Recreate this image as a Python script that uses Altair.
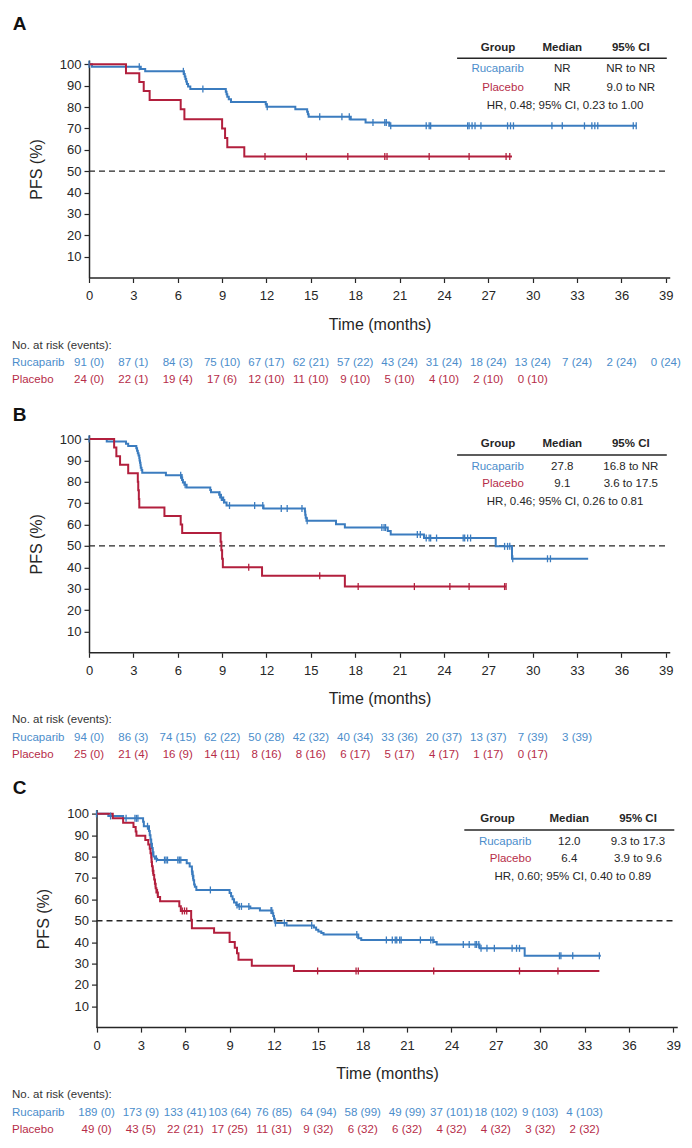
import altair as alt
import pandas as pd

FONT = "Liberation Sans, Arial, Helvetica, sans-serif"
BLUE = "#3b7cbf"
RED = "#b21f3d"
TBLUE = "#4b8dcb"
TRED = "#b62c48"
DARK = "#262626"

MONTH_TICKS = list(range(0, 40, 3))
PFS_TICKS = list(range(10, 101, 10))

# ---------------- Panel A ----------------
A_RUC_T = [0, 0.2, 3.5, 3.8, 6.42, 6.47, 6.52, 6.57, 6.62, 6.7, 6.85, 9.25, 9.3, 9.35, 9.45, 9.6,
           11.95, 12.0, 13.95, 14.75, 14.8, 14.85, 17.7, 18.7, 20.3, 37.0]
A_RUC_S = [100, 98.9, 97.8, 96.7, 95.5, 94.3, 93.1, 91.9, 90.8, 89.6, 88.4, 87.2, 86.0, 84.8, 83.6, 82.4,
           81.3, 80.1, 79.0, 77.8, 76.6, 75.4, 74.2, 72.8, 71.2, 71.2]
A_RUC_C = [0.0, 3.4, 6.38, 7.7, 12.05, 15.6, 17.1, 17.6, 19.2, 20.0, 20.1, 20.4, 22.8, 23.0, 23.1, 25.6,
           25.7, 25.9, 26.1, 26.5, 28.3, 28.5, 28.7, 31.3, 32.0, 33.5, 34.0, 34.2, 34.4, 36.8, 37.0]
A_PLA_T = [0, 2.5, 3.4, 3.7, 4.1, 6.2, 6.45, 9.0, 9.2, 9.35, 10.5, 28.6]
A_PLA_S = [100, 95.8, 91.7, 87.5, 83.3, 78.9, 74.3, 69.9, 65.5, 61.2, 56.8, 56.8]
A_PLA_C = [11.9, 14.7, 17.5, 20.0, 20.15, 23.0, 25.7, 28.2, 28.45]
A_RISK_RUC = ["91 (0)", "87 (1)", "84 (3)", "75 (10)", "67 (17)", "62 (21)", "57 (22)", "43 (24)",
              "31 (24)", "18 (24)", "13 (24)", "7 (24)", "2 (24)", "0 (24)"]
A_RISK_PLA = ["24 (0)", "22 (1)", "19 (4)", "17 (6)", "12 (10)", "11 (10)", "9 (10)", "5 (10)",
              "4 (10)", "2 (10)", "0 (10)"]
A_TABLE = [["Rucaparib", "NR", "NR to NR"], ["Placebo", "NR", "9.0 to NR"]]
A_HR = "HR, 0.48; 95% CI, 0.23 to 1.00"

# ---------------- Panel B ----------------
B_RUC_T = [0, 1.2, 2.5, 2.65, 3.2, 3.25, 3.3, 3.35, 3.4, 3.42, 3.45, 3.48, 3.5, 3.55, 3.6, 5.2, 6.25, 6.3,
           6.35, 6.45, 6.6, 8.2, 8.25, 8.8, 8.9, 9.0, 9.15, 9.3, 11.8, 14.6, 14.62, 14.65, 14.7, 16.7, 17.3,
           20.2, 20.4, 22.65, 27.5, 28.6, 33.75]
B_RUC_S = [100, 98.9, 97.8, 96.8, 95.7, 94.5, 93.4, 92.3, 91.1, 90.0, 88.9, 87.7, 86.6, 85.5, 84.3, 83.1,
           82.0, 80.9, 79.7, 78.6, 77.4, 76.2, 75.1, 73.9, 72.7, 71.5, 70.3, 68.9, 67.5, 66.1, 64.6, 63.2,
           61.8, 60.2, 58.6, 57.0, 55.4, 53.7, 49.8, 44.0, 44.0]
B_RUC_C = [0.0, 6.2, 6.28, 6.5, 8.85, 8.95, 9.1, 9.5, 11.2, 11.75, 13.0, 13.4, 14.4, 14.75, 19.8, 19.95,
           20.05, 22.2, 22.4, 22.8, 23.0, 23.1, 23.5, 25.3, 25.4, 25.6, 25.8, 28.1, 28.3, 28.45, 28.65,
           31.0, 31.2]
B_PLA_T = [0, 1.7, 1.85, 2.1, 2.65, 3.3, 3.33, 3.37, 3.4, 5.1, 6.2, 6.3, 8.9, 8.95, 9.0, 9.05, 11.7, 17.3, 28.2]
B_PLA_S = [100, 96, 92, 88, 84, 80, 76, 72, 68, 64, 60, 56, 52, 48, 44, 40, 36, 31, 31]
B_PLA_C = [10.8, 15.6, 18.2, 22.0, 24.4, 25.7, 28.1, 28.2]
B_RISK_RUC = ["94 (0)", "86 (3)", "74 (15)", "62 (22)", "50 (28)", "42 (32)", "40 (34)", "33 (36)",
              "20 (37)", "13 (37)", "7 (39)", "3 (39)"]
B_RISK_PLA = ["25 (0)", "21 (4)", "16 (9)", "14 (11)", "8 (16)", "8 (16)", "6 (17)", "5 (17)",
              "4 (17)", "1 (17)", "0 (17)"]
B_TABLE = [["Rucaparib", "27.8", "16.8 to NR"], ["Placebo", "9.1", "3.6 to 17.5"]]
B_HR = "HR, 0.46; 95% CI, 0.26 to 0.81"

# ---------------- Panel C ----------------
C_RUC_T = [0, 0.8, 1.8, 3.15, 3.2, 3.55, 3.6, 3.65, 3.7, 3.75, 3.8, 3.85, 3.95, 4.1, 6.1, 6.3, 6.45, 6.5,
           6.55, 6.6, 6.65, 6.75, 9.0, 9.1, 9.2, 9.3, 9.45, 9.6, 10.4, 11.05, 11.9, 11.95, 12.0, 12.05,
           12.1, 12.85, 14.7, 14.85, 15.0, 15.2, 15.35, 17.7, 17.9, 22.8, 23.0, 25.9, 28.95, 34.1]
C_RUC_S = [100, 99.0, 97.9, 96.3, 94.2, 92.0, 90.0, 88.0, 86.0, 84.0, 82.0, 80.0, 79.0, 78.4, 76.9, 75.4,
           73.0, 71.0, 69.0, 67.0, 65.9, 64.4, 63.0, 61.5, 60.0, 58.5, 57.4, 56.7, 55.9, 54.8, 53.5, 52.2,
           50.9, 49.6, 48.9, 47.8, 46.8, 45.8, 45.0, 44.3, 43.6, 41.8, 41.0, 40.0, 38.9, 37.1, 33.6, 33.6]
C_RUC_C = [0.0, 0.95, 2.0, 2.6, 2.7, 2.8, 3.45, 3.7, 3.8, 4.05, 4.6, 4.7, 4.8, 5.5, 5.6, 5.7, 6.45, 6.5,
           7.7, 9.5, 9.65, 9.8, 10.3, 11.8, 11.85, 12.1, 12.7, 14.55, 17.6, 19.6, 20.0, 20.2, 20.3, 20.5,
           20.6, 21.9, 22.6, 22.75, 24.8, 25.2, 25.6, 25.7, 25.85, 26.0, 26.4, 26.9, 28.1, 28.4, 28.6,
           31.3, 31.4, 32.2, 34.0]
C_PLA_T = [0, 1.1, 1.8, 2.5, 2.65, 2.7, 3.3, 3.5, 3.6, 3.65, 3.7, 3.72, 3.75, 3.8, 3.85, 3.9, 3.95, 4.0,
           4.05, 4.15, 4.3, 5.6, 5.7, 6.4, 6.45, 7.95, 9.0, 9.35, 9.5, 9.6, 10.5, 13.35, 34.0]
C_PLA_S = [100, 98.0, 95.9, 93.9, 91.8, 89.8, 87.8, 85.7, 83.7, 81.6, 79.6, 77.5, 75.5, 73.4, 71.4, 69.3,
           67.3, 65.2, 63.2, 61.1, 59.1, 56.8, 54.6, 50.5, 46.5, 44.4, 40.0, 37.4, 34.8, 31.7, 28.9, 26.5, 26.5]
C_PLA_C = [3.73, 3.81, 3.98, 4.12, 5.8, 5.95, 6.1, 14.95, 17.55, 17.7, 22.8, 28.6, 31.2]
C_RISK_RUC = ["189 (0)", "173 (9)", "133 (41)", "103 (64)", "76 (85)", "64 (94)", "58 (99)", "49 (99)",
              "37 (101)", "18 (102)", "9 (103)", "4 (103)"]
C_RISK_PLA = ["49 (0)", "43 (5)", "22 (21)", "17 (25)", "11 (31)", "9 (32)", "6 (32)", "6 (32)",
              "4 (32)", "4 (32)", "3 (32)", "2 (32)"]
C_TABLE = [["Rucaparib", "12.0", "9.3 to 17.3"], ["Placebo", "6.4", "3.9 to 9.6"]]
C_HR = "HR, 0.60; 95% CI, 0.40 to 0.89"

HEADERS = ["Group", "Median", "95% CI"]

# layout constants (pixels)
X0 = 88.7      # page x of plot origin
PXM = 14.79    # px per month
H = 218
ONE = pd.DataFrame({"k": [0]})


def step_at(ts, ss, t):
    v = ss[0]
    for a, b in zip(ts, ss):
        if a <= t:
            v = b
    return v


def T(text, x, y, size=11.5, color=DARK, align="center", weight="normal"):
    return alt.Chart(ONE).mark_text(text=text, font=FONT, fontSize=size, color=color, align=align,
                                    baseline="middle", fontWeight=weight).encode(
        x=alt.value(x), y=alt.value(y))


def panel(letter, letter_y, ruc, pla, risk_r, risk_p, table, hr, tg, shift, anchor=False):
    xs = alt.Scale(domain=[-shift / PXM, 39.3], nice=False, zero=False)
    ys = alt.Scale(domain=[0, 102], nice=False, zero=False)
    xaxis = alt.Axis(values=MONTH_TICKS, title="Time (months)", domain=False, grid=False,
                     tickSize=4.5, tickWidth=1.2, tickColor=DARK, labelFont=FONT, labelFontSize=13,
                     labelColor=DARK, labelPadding=7, labelFlush=False, titleFont=FONT,
                     titleFontSize=16, titleFontWeight="normal", titleColor=DARK, titlePadding=13.5,
                     titleX=290.6 + shift)
    yaxis = alt.Axis(values=PFS_TICKS, title="PFS (%)", domain=True, domainColor=DARK, domainWidth=1.5,
                     grid=False, tickSize=5, tickWidth=1.2, tickColor=DARK, labelFont=FONT,
                     labelFontSize=13, labelColor=DARK, labelPadding=3, labelFlush=False,
                     titleFont=FONT, titleFontSize=16, titleFontWeight="normal", titleColor=DARK,
                     titlePadding=15, offset=-shift)

    def X():
        return alt.X("t:Q", scale=xs, axis=xaxis)

    def Y():
        return alt.Y("s:Q", scale=ys, axis=yaxis)

    layers = []
    dash = alt.Chart(pd.DataFrame({"t": [0], "t2": [39.1], "s": [50]})).mark_rule(
        color=DARK, strokeWidth=1.3, strokeDash=[6, 4]).encode(x=X(), x2=alt.X2("t2:Q"), y=Y())
    xline = alt.Chart(pd.DataFrame({"t": [0], "t2": [39.3], "s": [0]})).mark_rule(
        color=DARK, strokeWidth=1.5).encode(x=X(), x2=alt.X2("t2:Q"), y=Y())
    layers += [dash, xline]

    for (ts, ss, cs), col in [(ruc, BLUE), (pla, RED)]:
        df = pd.DataFrame({"t": ts, "s": ss})
        layers.append(alt.Chart(df).mark_line(interpolate="step-after", color=col, strokeWidth=2)
                      .encode(x=X(), y=Y()))
    for (ts, ss, cs), col in [(ruc, BLUE), (pla, RED)]:
        cdf = pd.DataFrame({"t": cs, "s": [step_at(ts, ss, c) for c in cs]})
        layers.append(alt.Chart(cdf).mark_point(shape="M0,-1L0,1", size=49, strokeWidth=1.3, color=col,
                                                filled=False, opacity=1).encode(x=X(), y=Y()))

    # panel letter
    layers.append(T(letter, 12.4 - X0, letter_y, size=19, align="left", weight="bold", color="#111"))

    # summary table
    layers.append(T(HEADERS[0], tg["group"] - X0, tg["yh"], weight="bold"))
    layers.append(T(HEADERS[1], tg["med"] - X0, tg["yh"], weight="bold"))
    layers.append(T(HEADERS[2], tg["ci"] - X0, tg["yh"], weight="bold"))
    layers.append(alt.Chart(ONE).mark_rule(color=DARK, strokeWidth=1.5).encode(
        x=alt.value(tg["l1"] - X0), x2=alt.value(tg["l2"] - X0), y=alt.value(tg["yl"])))
    for row, yy, col in [(table[0], tg["yr"], TBLUE), (table[1], tg["yp"], TRED)]:
        layers.append(T(row[0], tg["right"] - X0, yy, color=col, align="right"))
        layers.append(T(row[1], tg["med"] - X0, yy))
        layers.append(T(row[2], tg["ci"] - X0, yy))
    layers.append(T(hr, tg["hr"] - X0, tg["yhr"]))

    # number at risk
    layers.append(T("No. at risk (events):", 11.7 - X0, H + 67.6, color="#333", align="left"))
    layers.append(T("Rucaparib", 11.7 - X0, H + 85, color=TBLUE, align="left"))
    layers.append(T("Placebo", 11.7 - X0, H + 102.4, color=TRED, align="left"))
    for labs, col, yy in [(risk_r, TBLUE, H + 85), (risk_p, TRED, H + 102.4)]:
        rdf = pd.DataFrame({"t": MONTH_TICKS[:len(labs)], "lab": labs})
        layers.append(alt.Chart(rdf).mark_text(font=FONT, fontSize=11.5, color=col, align="center",
                                               baseline="middle").encode(
            x=X(), y=alt.value(yy), text="lab:N"))

    if anchor:
        layers.append(alt.Chart(ONE).mark_rect(color="white").encode(
            x=alt.value(8 - X0), x2=alt.value(9 - X0), y=alt.value(8 - 60), y2=alt.value(9 - 60)))

    width = 39.3 * PXM + shift
    return alt.layer(*layers).properties(width=width, height=H)


TG_A = dict(group=497.8, med=562, ci=630.5, l1=456.8, l2=666.5, right=523.5, hr=564.8,
            yh=-12.3, yl=-1.7, yr=9.3, yp=27.7, yhr=45.7)
TG_B = dict(group=497.8, med=562, ci=630.5, l1=456.8, l2=666.5, right=523.5, hr=564.8,
            yh=9.3, yl=20.3, yr=32.0, yp=49.5, yhr=67.0)
TG_C = dict(group=497.3, med=569, ci=637.7, l1=464, l2=674, right=531, hr=572.5,
            yh=9.3, yl=20.3, yr=32.0, yp=49.5, yhr=67.0)

pA = panel("A", -36, (A_RUC_T, A_RUC_S, A_RUC_C), (A_PLA_T, A_PLA_S, A_PLA_C),
           A_RISK_RUC, A_RISK_PLA, A_TABLE, A_HR, TG_A, 0, anchor=True)
pB = panel("B", -19.8, (B_RUC_T, B_RUC_S, B_RUC_C), (B_PLA_T, B_PLA_S, B_PLA_C),
           B_RISK_RUC, B_RISK_PLA, B_TABLE, B_HR, TG_B, 0)
pC = panel("C", -21.3, (C_RUC_T, C_RUC_S, C_RUC_C), (C_PLA_T, C_PLA_S, C_PLA_C),
           C_RISK_RUC, C_RISK_PLA, C_TABLE, C_HR, TG_C, 7.5)

chart = alt.vconcat(pA, pB, pC, spacing=156.8, bounds="flush").properties(
    padding=0).configure_view(stroke=None)
chart.save("out.html", embed_options={"renderer": "svg", "actions": False})
